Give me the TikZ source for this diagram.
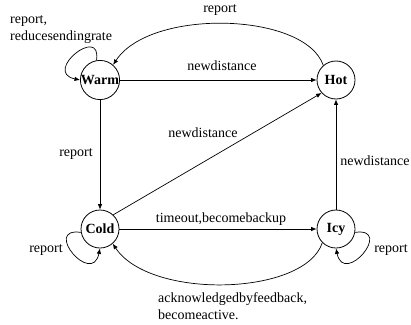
\documentclass[tikz,border=0pt]{standalone}
\usepackage{fontspec}
\setmainfont{Liberation Serif}
\usetikzlibrary{arrows.meta}
\begin{document}
\begin{tikzpicture}[x=1pt,y=-1pt,
  state/.style={draw, circle, minimum size=38pt, inner sep=0pt, line width=0.8pt, font=\fontsize{14}{17}\selectfont\bfseries},
  lbl/.style={font=\fontsize{14}{17}\selectfont, inner sep=0pt},
  edge/.style={line width=0.7pt, -{Latex[length=5.5pt,width=4.5pt]}}]
\useasboundingbox (0,0) rectangle (411,324);
\node[state] (w) at (100,80) {Warm};
\node[state] (h) at (336,80) {Hot};
\node[state] (c) at (100,229) {Cold};
\node[state] (i) at (336,229) {Icy};
% edges
\draw[edge] (w) -- (h);
\draw[edge] (h.131) .. controls (305,12) and (150,8) .. (w.49);
\draw[edge] (w.100) .. controls (102,24) and (42,72) .. (w.west);
\draw[edge] (w) -- (c);
\draw[edge] (c.47) -- (h.222);
\draw[edge] (c) -- (i);
\draw[edge] (i) -- (h);
\draw[edge] (i.225) .. controls (305,296) and (150,300) .. (c.311);
\draw[edge] (c.190) .. controls (42,227) and (92,287) .. (c.south);
\draw[edge] (i.-10) .. controls (394,227) and (344,287) .. (i.south);
% labels
\node[lbl] (l1) at (220,10) {report};
\node[lbl] (l2) at (222,66) {newdistance};
\node[lbl, anchor=north west, align=left] (l3) at (10,15) {report,\\reducesendingrate};
\node[lbl] (l4) at (76,154) {report};
\node[lbl] (l5) at (203,133) {newdistance};
\node[lbl] (l6) at (375,161) {newdistance};
\node[lbl] (l7) at (221,219) {timeout,becomebackup};
\node[lbl] (l8) at (46,250) {report};
\node[lbl] (l9) at (391,250) {report};
\node[lbl, anchor=north west, align=left] (l10) at (158,292) {acknowledgedbyfeedback,\\becomeactive.};
\end{tikzpicture}
\end{document}
